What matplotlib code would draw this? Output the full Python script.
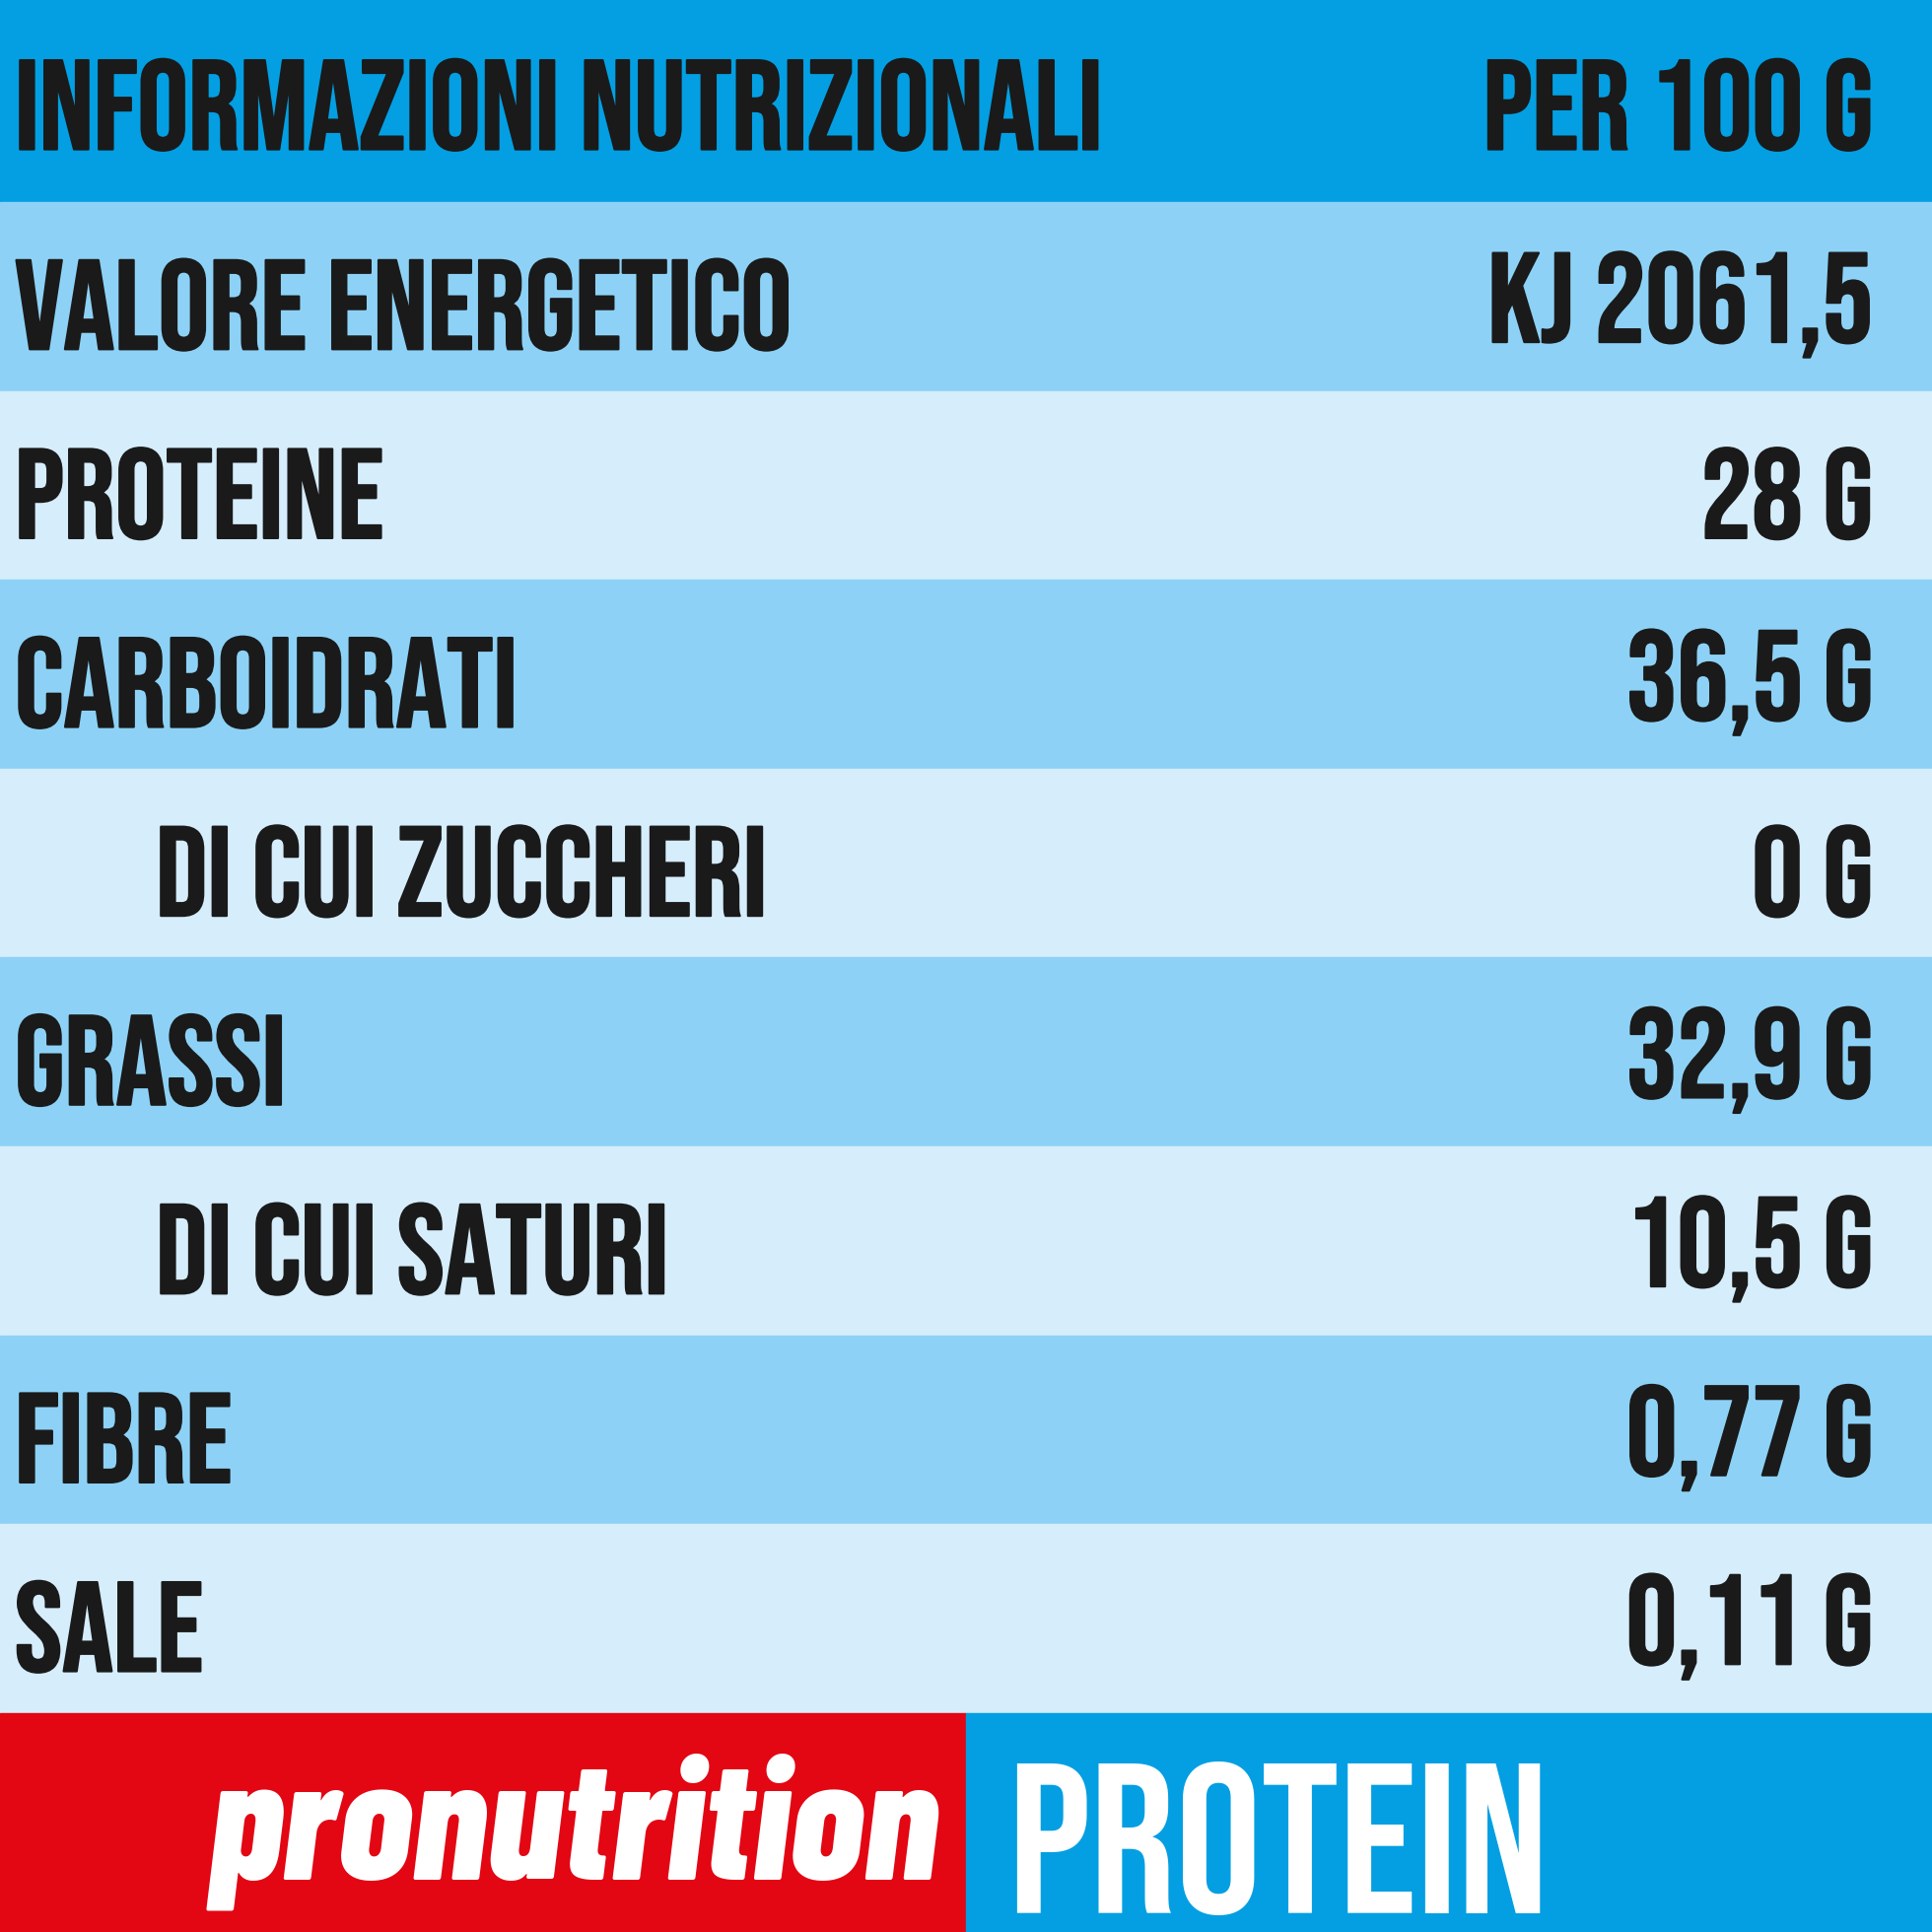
import matplotlib
matplotlib.use("Agg")
import matplotlib.pyplot as plt
from matplotlib.patches import Rectangle
import matplotlib.patheffects as pe

header = ("INFORMAZIONI NUTRIZIONALI", "PER 100 G")
labels = ["VALORE ENERGETICO", "PROTEINE", "CARBOIDRATI", "DI CUI ZUCCHERI",
          "GRASSI", "DI CUI SATURI", "FIBRE", "SALE"]
values = ["KJ 2061,5", "28 G", "36,5 G", "0 G", "32,9 G", "10,5 G", "0,77 G", "0,11 G"]
indent = [False, False, False, True, False, True, False, False]

fig = plt.figure(figsize=(19.6, 19.6), dpi=100)
ax = fig.add_axes([0, 0, 1, 1])
ax.set_xlim(0, 1960); ax.set_ylim(1960, 0); ax.axis("off")

FAM = ["Bebas Neue", "Oswald", "DejaVu Sans"]
stroke = [pe.withStroke(linewidth=1.6, foreground="#1a1a1a")]
font = dict(family=FAM, color="#1a1a1a", path_effects=stroke)
FS = 93

ax.add_patch(Rectangle((0, 0), 1960, 205, color="#039FE2"))
ax.text(15, 106, header[0], ha="left", va="center", fontsize=FS, **font)
ax.text(1900, 106, header[1], ha="right", va="center", fontsize=FS, **font)

top, h = 205, 191.6
for i, (lab, val) in enumerate(zip(labels, values)):
    y0 = top + i * h
    col = "#8DD2F6" if i % 2 == 0 else "#D6EDFC"
    ax.add_patch(Rectangle((0, y0), 1960, h, color=col))
    ax.text(158 if indent[i] else 15, y0 + h / 2 + 8, lab, ha="left", va="center", fontsize=FS, **font)
    ax.text(1900, y0 + h / 2 + 8, val, ha="right", va="center", fontsize=FS, **font)

yb = top + 8 * h
ax.add_patch(Rectangle((0, yb), 980, 1960 - yb, color="#E30613"))
ax.add_patch(Rectangle((980, yb), 980, 1960 - yb, color="#039FE2"))
ax.text(582, yb + 120, "pronutrition", ha="center", va="center", fontsize=124,
        family=["Barlow Condensed", "Oswald", "DejaVu Sans"], fontweight="heavy", style="italic", color="white")
ax.text(1022, yb + 127, "PROTEIN", ha="left", va="center", fontsize=156,
        family=FAM, color="white")

fig.savefig("out.png", dpi=100)
